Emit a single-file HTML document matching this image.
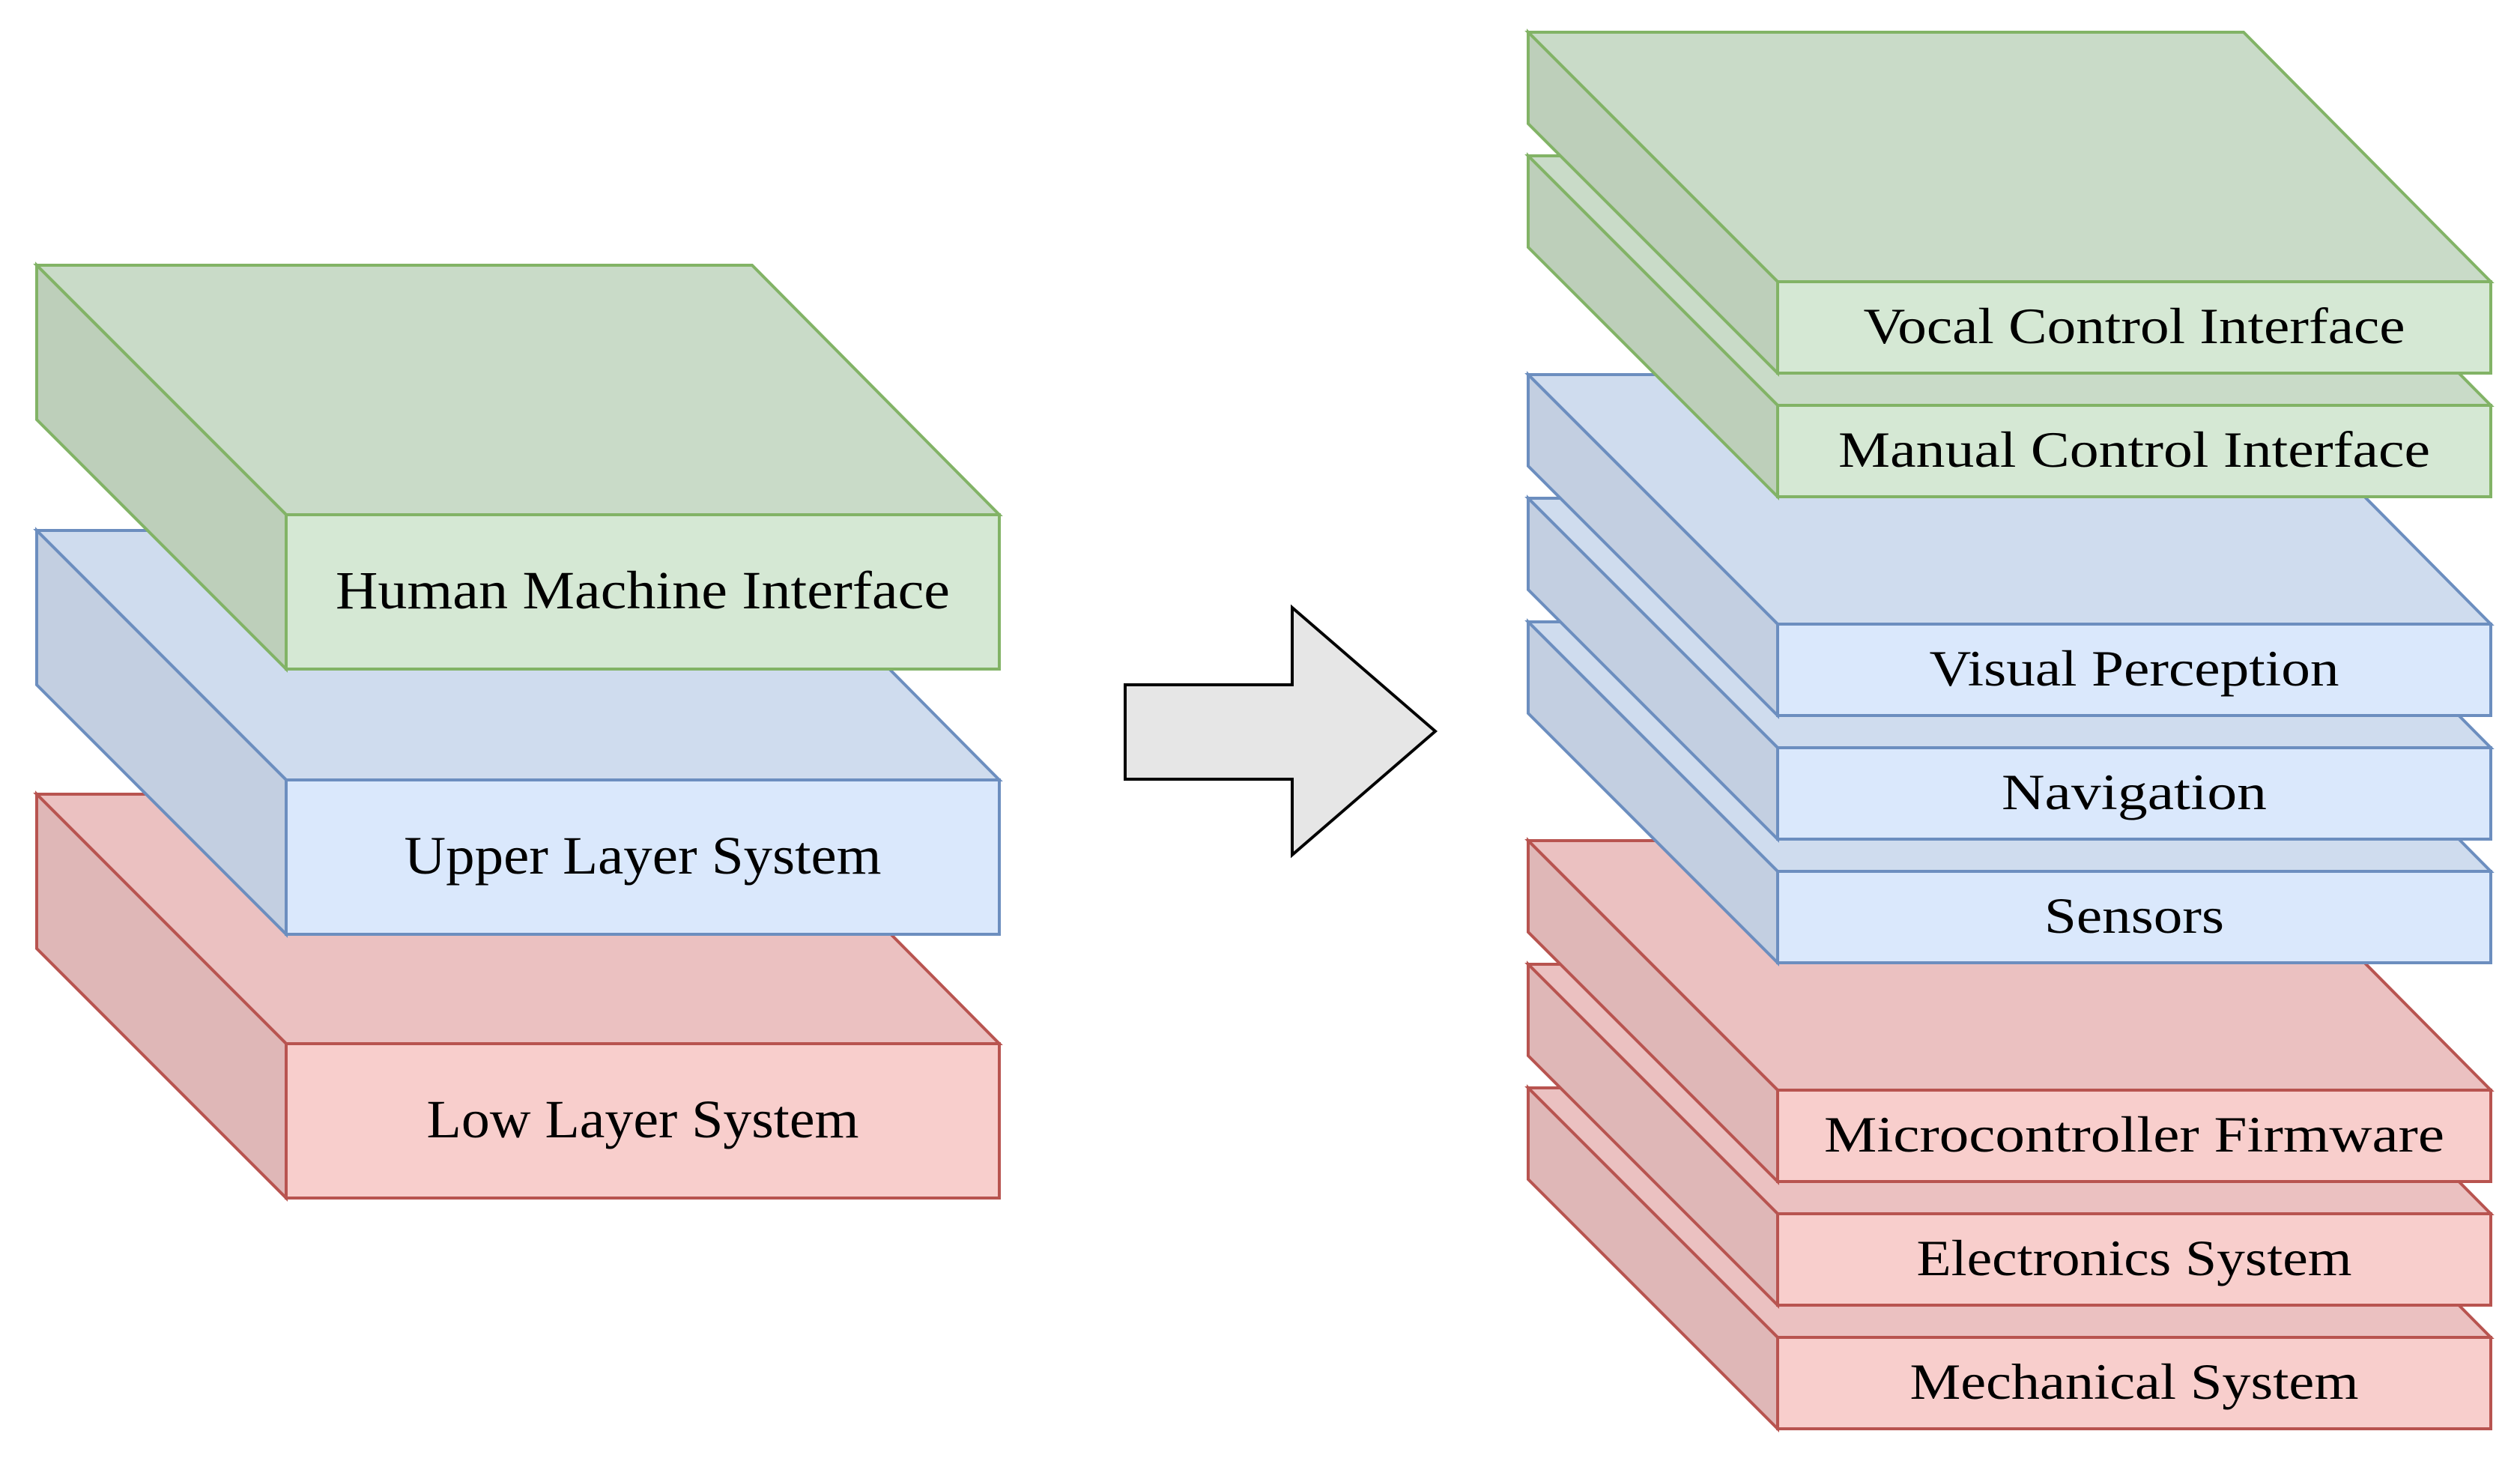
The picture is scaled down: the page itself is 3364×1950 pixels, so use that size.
<!DOCTYPE html>
<html><head><meta charset="utf-8"><style>
html,body{margin:0;padding:0;background:#fff;}
svg{display:block;}
text{font-family:"Liberation Serif",serif;fill:#000;text-anchor:middle;}
.g polygon,.g rect{stroke:#82b366;stroke-width:4;stroke-linejoin:miter;}
.b polygon,.b rect{stroke:#6c8ebf;stroke-width:4;}
.r polygon,.r rect{stroke:#b85450;stroke-width:4;}
.g .t{fill:#c9dbc8}.g .s{fill:#bdcfba}.g .f{fill:#d5e8d4}
.b .t{fill:#cfdcee}.b .s{fill:#c3cfe1}.b .f{fill:#dae8fc}
.r .t{fill:#ebc1c1}.r .s{fill:#dfb7b7}.r .f{fill:#f8cecc}
</style></head><body>
<svg width="3364" height="1950" viewBox="0 0 3364 1950" xmlns="http://www.w3.org/2000/svg">
<g class="r">
<polygon class="t" points="49,1060 1004,1060 1334,1393 382,1393"/>
<polygon class="s" points="49,1060 382,1393 382,1599 49,1266"/>
<rect class="f" x="382" y="1393" width="952" height="206"/>
<text x="858" y="1518" font-size="72" textLength="577" lengthAdjust="spacingAndGlyphs">Low Layer System</text>
</g>
<g class="b">
<polygon class="t" points="49,708 1004,708 1334,1041 382,1041"/>
<polygon class="s" points="49,708 382,1041 382,1247 49,914"/>
<rect class="f" x="382" y="1041" width="952" height="206"/>
<text x="858" y="1166" font-size="72" textLength="637" lengthAdjust="spacingAndGlyphs">Upper Layer System</text>
</g>
<g class="g">
<polygon class="t" points="49,354 1004,354 1334,687 382,687"/>
<polygon class="s" points="49,354 382,687 382,893 49,560"/>
<rect class="f" x="382" y="687" width="952" height="206"/>
<text x="858" y="812" font-size="72" textLength="820" lengthAdjust="spacingAndGlyphs">Human Machine Interface</text>
</g>
<polygon points="1502,914 1725,914 1725,811 1916,976 1725,1141 1725,1040 1502,1040" fill="#e6e6e6" stroke="#000" stroke-width="4"/>
<g class="r">
<polygon class="t" points="2040,1452 2995,1452 3325,1785 2373,1785"/>
<polygon class="s" points="2040,1452 2373,1785 2373,1907 2040,1574"/>
<rect class="f" x="2373" y="1785" width="952" height="122"/>
<text x="2849" y="1867" font-size="68" textLength="599" lengthAdjust="spacingAndGlyphs">Mechanical System</text>
</g>
<g class="r">
<polygon class="t" points="2040,1287 2995,1287 3325,1620 2373,1620"/>
<polygon class="s" points="2040,1287 2373,1620 2373,1742 2040,1409"/>
<rect class="f" x="2373" y="1620" width="952" height="122"/>
<text x="2849" y="1702" font-size="68" textLength="581" lengthAdjust="spacingAndGlyphs">Electronics System</text>
</g>
<g class="r">
<polygon class="t" points="2040,1122 2995,1122 3325,1455 2373,1455"/>
<polygon class="s" points="2040,1122 2373,1455 2373,1577 2040,1244"/>
<rect class="f" x="2373" y="1455" width="952" height="122"/>
<text x="2849" y="1537" font-size="68" textLength="828" lengthAdjust="spacingAndGlyphs">Microcontroller  Firmware</text>
</g>
<g class="b">
<polygon class="t" points="2040,830 2995,830 3325,1163 2373,1163"/>
<polygon class="s" points="2040,830 2373,1163 2373,1285 2040,952"/>
<rect class="f" x="2373" y="1163" width="952" height="122"/>
<text x="2849" y="1245" font-size="68" textLength="240" lengthAdjust="spacingAndGlyphs">Sensors</text>
</g>
<g class="b">
<polygon class="t" points="2040,665 2995,665 3325,998 2373,998"/>
<polygon class="s" points="2040,665 2373,998 2373,1120 2040,787"/>
<rect class="f" x="2373" y="998" width="952" height="122"/>
<text x="2849" y="1080" font-size="68" textLength="354" lengthAdjust="spacingAndGlyphs">Navigation</text>
</g>
<g class="b">
<polygon class="t" points="2040,500 2995,500 3325,833 2373,833"/>
<polygon class="s" points="2040,500 2373,833 2373,955 2040,622"/>
<rect class="f" x="2373" y="833" width="952" height="122"/>
<text x="2849" y="915" font-size="68" textLength="547" lengthAdjust="spacingAndGlyphs">Visual Perception</text>
</g>
<g class="g">
<polygon class="t" points="2040,208 2995,208 3325,541 2373,541"/>
<polygon class="s" points="2040,208 2373,541 2373,663 2040,330"/>
<rect class="f" x="2373" y="541" width="952" height="122"/>
<text x="2849" y="623" font-size="68" textLength="790" lengthAdjust="spacingAndGlyphs">Manual Control Interface</text>
</g>
<g class="g">
<polygon class="t" points="2040,43 2995,43 3325,376 2373,376"/>
<polygon class="s" points="2040,43 2373,376 2373,498 2040,165"/>
<rect class="f" x="2373" y="376" width="952" height="122"/>
<text x="2849" y="458" font-size="68" textLength="723" lengthAdjust="spacingAndGlyphs">Vocal Control Interface</text>
</g>
</svg>
</body></html>
